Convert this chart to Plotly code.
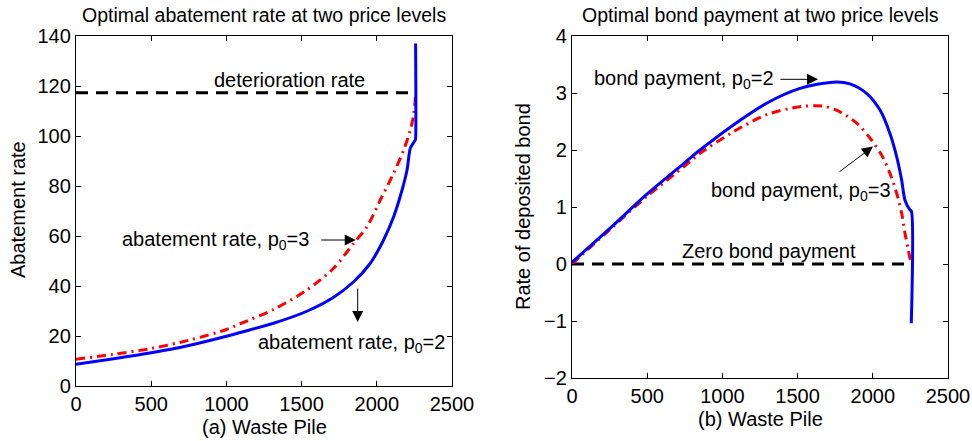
import plotly.graph_objects as go

# Waste pile grid and optimal abatement rates for two initial prices
pile_p2 = [0, 250, 500, 750, 1000, 1091, 1313, 1535, 1713, 1846, 1957, 2045, 2112, 2168, 2201, 2223, 2245, 2256, 2258, 2258]
abate_p2 = [8.7, 10.9, 13.3, 16.2, 19.9, 21.4, 25.1, 29.9, 35.5, 41.7, 49.1, 58.4, 67.7, 78.4, 86.4, 95.1, 97.4, 98.4, 99.0, 137.0]

pile_p3 = [0, 250, 500, 750, 1000, 1091, 1313, 1535, 1713, 1846, 1935, 2023, 2112, 2179, 2223, 2245, 2258]
abate_p3 = [10.7, 12.7, 15.0, 18.3, 22.6, 24.9, 30.6, 38.4, 47.1, 57.1, 63.7, 74.4, 85.1, 94.4, 102.4, 108.4, 116.0]

# Optimal rate of deposited bond for the same price levels
bond_pile_p2 = [0, 250, 500, 750, 851, 1073, 1294, 1516, 1737, 1848, 1960, 2048, 2114, 2159, 2192, 2214, 2247, 2256, 2256]
bond_p2 = [0.03, 0.62, 1.23, 1.78, 2.00, 2.44, 2.82, 3.08, 3.19, 3.16, 2.99, 2.70, 2.29, 1.88, 1.47, 1.12, 0.95, 0.93, -1.04]

bond_pile_p3 = [0, 250, 500, 750, 851, 1073, 1294, 1516, 1671, 1782, 1893, 1981, 2059, 2114, 2159, 2192, 2214, 2236, 2254]
bond_p3 = [0.0, 0.60, 1.19, 1.72, 1.94, 2.32, 2.62, 2.76, 2.77, 2.67, 2.47, 2.21, 1.91, 1.59, 1.24, 0.89, 0.54, 0.25, 0.0]

deterioration_rate = 117.3
pile_end = 2256

x_ticks = [0, 500, 1000, 1500, 2000, 2500]
abate_ticks = [0, 20, 40, 60, 80, 100, 120, 140]
bond_ticks = [-2, -1, 0, 1, 2, 3, 4]
bond_tick_text = ["\u22122", "\u22121", "0", "1", "2", "3", "4"]

FONT = "Liberation Sans"
BLUE = "#0000ff"
RED = "#ff0000"
W, H = 972, 441
DASH_BLACK = "12px,8px"
DASH_RED = "9px,5px,2px,5px"
SMOOTH = 0.85

fig = go.Figure()

# Left panel: abatement rate
fig.add_trace(go.Scatter(x=[0, pile_end], y=[deterioration_rate, deterioration_rate], mode="lines",
                         line=dict(color="black", width=3, dash=DASH_BLACK), xaxis="x", yaxis="y"))
fig.add_trace(go.Scatter(x=pile_p3, y=abate_p3, mode="lines",
                         line=dict(color=RED, width=3, dash=DASH_RED, shape="spline", smoothing=SMOOTH),
                         xaxis="x", yaxis="y"))
fig.add_trace(go.Scatter(x=pile_p2, y=abate_p2, mode="lines",
                         line=dict(color=BLUE, width=3, shape="spline", smoothing=SMOOTH), xaxis="x", yaxis="y"))

# Right panel: bond payment
fig.add_trace(go.Scatter(x=[0, pile_end], y=[0, 0], mode="lines",
                         line=dict(color="black", width=3, dash=DASH_BLACK), xaxis="x2", yaxis="y2"))
fig.add_trace(go.Scatter(x=bond_pile_p3, y=bond_p3, mode="lines",
                         line=dict(color=RED, width=3, dash=DASH_RED, shape="spline", smoothing=SMOOTH),
                         xaxis="x2", yaxis="y2"))
fig.add_trace(go.Scatter(x=bond_pile_p2, y=bond_p2, mode="lines",
                         line=dict(color=BLUE, width=3, shape="spline", smoothing=SMOOTH), xaxis="x2", yaxis="y2"))

axis_common = dict(showgrid=False, zeroline=False, showline=True, linecolor="black", linewidth=1.3,
                   mirror="ticks", ticks="inside", ticklen=5, tickcolor="black", tickwidth=1,
                   automargin=False, tickfont=dict(family=FONT, size=20, color="black"))


def frac_x(px):
    return px / W


def frac_y(px):
    return 1 - px / H


fig.update_layout(
    width=W, height=H,
    margin=dict(l=0, r=0, t=0, b=0, autoexpand=False),
    paper_bgcolor="white", plot_bgcolor="white",
    showlegend=False,
    font=dict(family=FONT, color="black"),
    xaxis=dict(domain=[frac_x(76), frac_x(452)], range=[0, 2500], tickvals=x_ticks, anchor="y", **axis_common),
    yaxis=dict(domain=[frac_y(386), frac_y(36)], range=[0, 140], tickvals=abate_ticks, anchor="x", **axis_common),
    xaxis2=dict(domain=[frac_x(572), frac_x(948)], range=[0, 2500], tickvals=x_ticks, anchor="y2", **axis_common),
    yaxis2=dict(domain=[frac_y(378), frac_y(36)], range=[-2, 4], tickvals=bond_ticks, ticktext=bond_tick_text,
                anchor="x2", **axis_common),
)

text_font = dict(family=FONT, size=20, color="black")
title_font = dict(family=FONT, size=19.5, color="black")
axis_title_font = dict(family=FONT, size=20, color="black")
ann = []


def paper_text(text, px, py, font, angle=0):
    ann.append(dict(text=text, xref="paper", yref="paper", x=frac_x(px), y=frac_y(py),
                    xanchor="center", yanchor="middle", showarrow=False, font=font, textangle=angle))


# Panel titles and axis titles
paper_text("Optimal abatement rate at two price levels", 264, 15, title_font)
paper_text("Optimal bond payment at two price levels", 760, 15, title_font)
paper_text("(a) Waste Pile", 264, 427, axis_title_font)
paper_text("(b) Waste Pile", 760, 419, axis_title_font)
paper_text("Abatement rate", 18, 210, axis_title_font, -90)
paper_text("Rate of deposited bond", 523, 207, axis_title_font, -90)


def arrow(xr, yr, x, y, ax, ay):
    ann.append(dict(text="", xref=xr, yref=yr, x=x, y=y, axref=xr, ayref=yr, ax=ax, ay=ay,
                    showarrow=True, arrowhead=2, arrowsize=2.2, arrowwidth=1, arrowcolor="black"))


# Left panel labels
ann.append(dict(text="deterioration rate", xref="x", yref="y", x=1420, y=122.5,
                xanchor="center", yanchor="middle", showarrow=False, font=text_font))
ann.append(dict(text="abatement rate, p<sub>0</sub>=3", xref="x", yref="y", x=1560, y=58.4,
                xanchor="right", yanchor="middle", showarrow=False, font=text_font))
arrow("x", "y", 1860, 58.4, 1620, 58.4)
arrow("x", "y", 1873, 25.6, 1873, 39.6)
ann.append(dict(text="abatement rate, p<sub>0</sub>=2", xref="x", yref="y", x=2470, y=17.2,
                xanchor="right", yanchor="middle", showarrow=False, font=text_font))

# Right panel labels
ann.append(dict(text="bond payment, p<sub>0</sub>=2", xref="x2", yref="y2", x=1358, y=3.23,
                xanchor="right", yanchor="middle", showarrow=False, font=text_font))
arrow("x2", "y2", 1636, 3.24, 1376, 3.24)
arrow("x2", "y2", 2001, 2.06, 1769, 1.60)
ann.append(dict(text="bond payment, p<sub>0</sub>=3", xref="x2", yref="y2", x=2136, y=1.27,
                xanchor="right", yanchor="middle", showarrow=False, font=text_font))
ann.append(dict(text="Zero bond payment", xref="x2", yref="y2", x=1310, y=0.22,
                xanchor="center", yanchor="middle", showarrow=False, font=text_font))

fig.update_layout(annotations=ann)

fig.write_html("out.html")
